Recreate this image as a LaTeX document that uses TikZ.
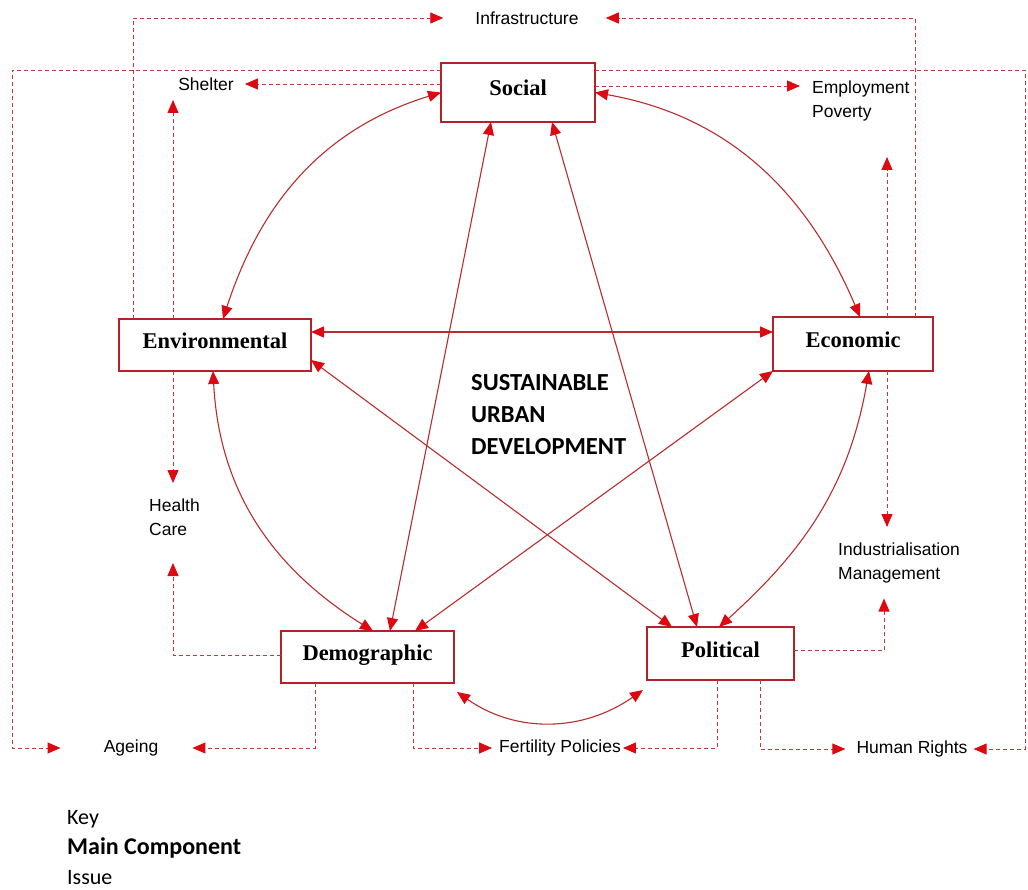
\documentclass[tikz,border=0pt]{standalone}
\usepackage{fontspec}
\setmainfont{Liberation Sans}
\newfontfamily\boxfont{Liberation Serif}
\newfontfamily\keyfont{Carlito}
\usetikzlibrary{arrows.meta,calc}
\definecolor{boxred}{RGB}{178,34,40}
\definecolor{linered}{RGB}{185,45,45}
\definecolor{tipred}{RGB}{222,8,16}
\definecolor{dashred}{RGB}{195,55,55}
\begin{document}
\begin{tikzpicture}[x=1pt,y=-1pt,
 >={Triangle[length=13pt,width=11pt,color=tipred]},
 comp/.style={draw=boxred, line width=2.4pt, fill=white, inner sep=0pt, outer sep=0pt,
   text height=15pt, text depth=8pt, font=\boxfont\bfseries\fontsize{22.5}{26}\selectfont},
 issue/.style={inner sep=0pt, font=\fontsize{17.5}{24}\selectfont, align=left},
 link/.style={draw=linered, line width=1.1pt, <->},
 dline/.style={draw=dashred, line width=0.9pt, dash pattern=on 4pt off 3pt, ->}]
\fill[white] (0,0) rectangle (1028,890);
\useasboundingbox (0,0) rectangle (1028,890);

% main components
\node[comp, minimum width=154pt, minimum height=59pt] (soc) at (518,92.5) {Social};
\node[comp, minimum width=192pt, minimum height=52pt] (env) at (215,345) {Environmental};
\node[comp, minimum width=160pt, minimum height=54pt] (eco) at (853,344) {Economic};
\node[comp, minimum width=173pt, minimum height=52pt] (dem) at (367.5,657) {Demographic};
\node[comp, minimum width=147pt, minimum height=53pt] (pol) at (720.5,653.5) {Political};

% issues
\node[issue] (infra) at (527,18) {Infrastructure};
\node[issue] (shelter) at (206,84) {Shelter};
\node[issue, anchor=west] (employ) at (812,101) {Employment\\Poverty};
\node[issue, anchor=west] (health) at (149,517.5) {Health\\Care};
\node[issue, anchor=west] (indus) at (838,563) {Industrialisation\\Management};
\node[issue] (ageing) at (131,748) {Ageing};
\node[issue] (fert) at (560,748) {Fertility Policies};
\node[issue] (human) at (912,749) {Human Rights};

\node[anchor=west, align=left, inner sep=0pt, font=\keyfont\bfseries\fontsize{24.5}{32}\selectfont] (sud) at (471,415) {SUSTAINABLE\\URBAN\\DEVELOPMENT};
\node[anchor=west, align=left, inner sep=0pt, font=\keyfont\fontsize{22}{30}\selectfont] (key) at (67,848) {Key\\{\bfseries\fontsize{24}{30}\selectfont Main Component}\\Issue};

% solid two-way links
\draw[link] (soc.west) to[out=197,in=72] ([xshift=8pt]env.north);
\draw[link] (soc.east) to[out=-10,in=113] ([xshift=7pt]eco.north);
\draw[link] ([xshift=-2pt]env.south) to[out=-87,in=148] ([xshift=5.5pt]dem.north);
\draw[link] ([xshift=16pt]eco.south) to[out=-100,in=42] ([xshift=-1.5pt]pol.north);
\draw[link] ([shift={(3pt,-9pt)}]dem.south east) to[out=-35,in=-145] ([shift={(-4pt,-10pt)}]pol.south west);
\draw[link] ([yshift=13pt]env.east) -- ([yshift=12pt]eco.west);
\draw[link] ([xshift=-27pt]soc.south) -- ([xshift=22.5pt]dem.north);
\draw[link] ([xshift=34pt]soc.south) -- ([xshift=-23.5pt]pol.north);
\draw[link] ([yshift=-15pt]env.east) -- ([xshift=-48.5pt]pol.north);
\draw[link] (eco.south west) -- ([xshift=47.5pt]dem.north);

% dashed issue links
\draw[dline] ([xshift=14pt]env.north west) |- ([xshift=-32pt]infra.west);
\draw[dline] ([xshift=-18pt]eco.north east) |- ([xshift=27pt]infra.east);
\draw[dline] ([yshift=-7pt]soc.north west) -- ++(-429,0) |- ([xshift=-43pt]ageing.west);
\draw[dline] ([yshift=-7pt]soc.north east) -- ++(430,0) |- ([xshift=6pt]human.east);
\draw[dline] ([yshift=-21pt]soc.north west) -- ([xshift=11pt]shelter.east);
\draw[dline] ([yshift=-23pt]soc.north east) -- ($(employ.west)+(-12,-15)$);
\draw[dline] ([xshift=54pt]env.north west) -- ++(0,-219);
\draw[dline] ([xshift=54pt]env.south west) -- ++(0,112);
\draw[dline] ([yshift=2pt]dem.west) -| ++(-108,-92);
\draw[dline] ([xshift=34pt]dem.south west) |- ([xshift=34pt]ageing.east);
\draw[dline] ([xshift=-41pt]dem.south east) |- ([xshift=-7pt]fert.west);
\draw[dline] ([xshift=-3.5pt]pol.south) |- ([xshift=2pt]fert.east);
\draw[dline] ([xshift=-34pt]pol.south east) |- ([xshift=-11pt]human.west);
\draw[dline] ([yshift=3pt]pol.east) -| ++(90,-52);
\draw[dline] ([xshift=34pt]eco.north) -- ++(0,-160);
\draw[dline] ([xshift=34pt]eco.south) -- ++(0,156);
\end{tikzpicture}
\end{document}
